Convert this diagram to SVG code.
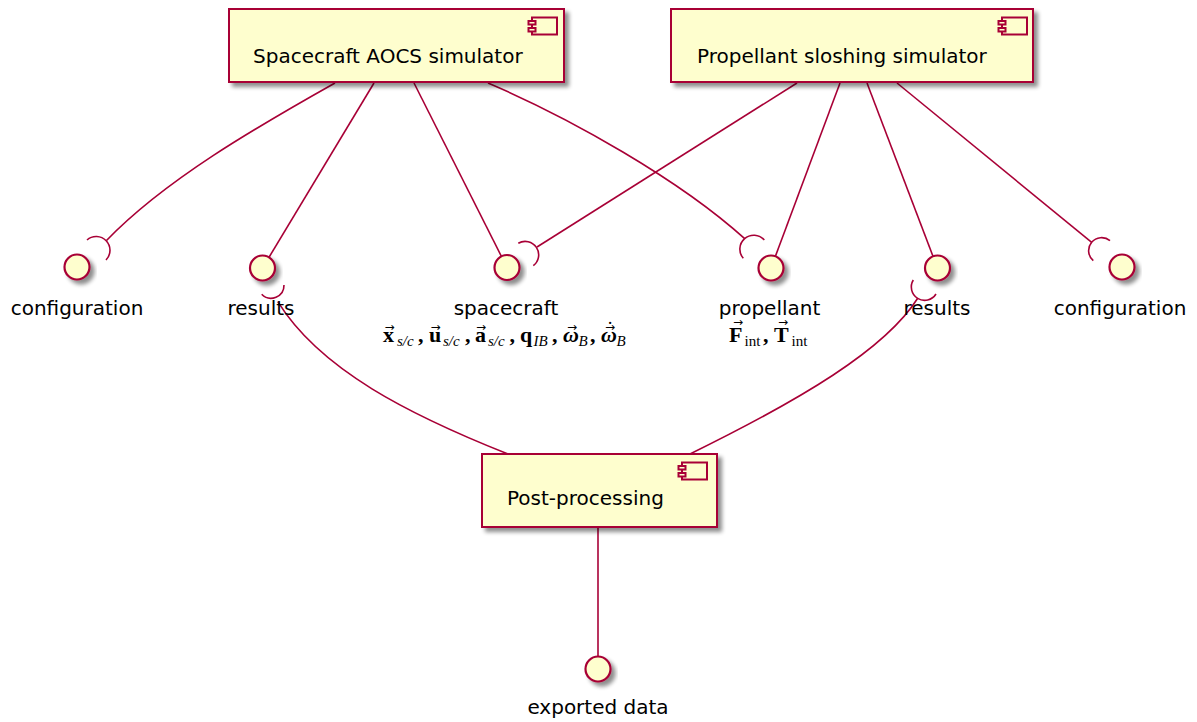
<svg xmlns="http://www.w3.org/2000/svg" width="1197" height="722" viewBox="0 0 1197 722">
<defs>
<filter id="sh" x="-20%" y="-20%" width="150%" height="160%">
<feGaussianBlur in="SourceAlpha" stdDeviation="2.2"/>
<feOffset dx="4" dy="4" result="b"/>
<feComponentTransfer><feFuncA type="linear" slope="0.45"/></feComponentTransfer>
<feMerge><feMergeNode/><feMergeNode in="SourceGraphic"/></feMerge>
</filter>
<style>
.box{fill:#FEFECE;stroke:#A80036;stroke-width:2}
.ico{fill:#FEFECE;stroke:#A80036;stroke-width:2}
.ifc{fill:#FEFECE;stroke:#A80036;stroke-width:2.2}
.ln{fill:none;stroke:#A80036;stroke-width:1.6}
.t{font-family:"DejaVu Sans",Verdana,sans-serif;font-size:20px;fill:#000}
.lbl{font-family:"DejaVu Sans",Verdana,sans-serif;font-size:20px;fill:#000;text-anchor:middle}
.m{font-family:"Liberation Serif","DejaVu Serif",serif;font-size:22px;font-weight:bold;fill:#000}
.sub{font-size:15px;font-weight:normal;font-style:italic}
.subr{font-size:15px;font-weight:normal}
.bi{font-style:italic}
.vec{font-family:"DejaVu Sans",sans-serif;font-size:12px;fill:#000;text-anchor:middle}
.dot{font-family:"Liberation Serif",serif;font-size:20px;fill:#000;text-anchor:middle}
</style>
</defs>
<g id="connectors">
<path class="ln" d="M335,83 C255,128 165,180 106.5,240.5"/>
<path class="ln" d="M87,240 A13.8,13.8 0 0 1 106,260"/>
<path class="ln" d="M374,83 L269,257.3"/>
<path class="ln" d="M414,83 L501.4,256.3"/>
<path class="ln" d="M488,83 C570,118 680,180 744.7,238.7"/>
<path class="ln" d="M743.3,258.3 A13.9,13.9 0 0 1 764.3,240"/>
<path class="ln" d="M797,83 L537,247"/>
<path class="ln" d="M518.3,243.3 A13.5,13.5 0 0 1 533.3,265.7"/>
<path class="ln" d="M840,83 L775.4,256.3"/>
<path class="ln" d="M867,83 L933,256.3"/>
<path class="ln" d="M897,83 L1091.7,242.4"/>
<path class="ln" d="M1093.3,260.7 A13,13 0 0 1 1110,240.7"/>
<path class="ln" d="M508,454 C410,415 320,370 277.8,301.7"/>
<path class="ln" d="M284,285 A13,13 0 0 1 261.7,294.3"/>
<path class="ln" d="M690,454 C800,400 885,350 917.7,298.3"/>
<path class="ln" d="M936,294 A13.3,13.3 0 0 1 913.3,280"/>
<path class="ln" d="M598,527 L598,656.5"/>
</g>
<g id="aocs">
<rect class="box" x="229" y="9" width="335" height="73" filter="url(#sh)"/>
<rect class="ico" x="532" y="17.5" width="25" height="17"/>
<rect class="ico" x="528.5" y="21" width="7" height="3.5"/>
<rect class="ico" x="528.5" y="28" width="7" height="3.5"/>
<text class="t" x="253" y="63">Spacecraft AOCS simulator</text>
</g>
<g id="sloshing">
<rect class="box" x="671" y="9" width="362" height="73" filter="url(#sh)"/>
<rect class="ico" x="1002" y="17.5" width="25" height="17"/>
<rect class="ico" x="998.5" y="21" width="7" height="3.5"/>
<rect class="ico" x="998.5" y="28" width="7" height="3.5"/>
<text class="t" x="697" y="63">Propellant sloshing simulator</text>
</g>
<g id="postprocessing">
<rect class="box" x="482" y="454" width="235" height="73" filter="url(#sh)"/>
<rect class="ico" x="682" y="462.5" width="25" height="17"/>
<rect class="ico" x="678.5" y="466" width="7" height="3.5"/>
<rect class="ico" x="678.5" y="473" width="7" height="3.5"/>
<text class="t" x="507" y="505">Post-processing</text>
</g>
<g id="config1">
<circle class="ifc" cx="77" cy="267" r="12.5" filter="url(#sh)"/>
<text class="lbl" x="77" y="315">configuration</text>
</g>
<g id="results1">
<circle class="ifc" cx="262.5" cy="268" r="12.5" filter="url(#sh)"/>
<text class="lbl" x="261" y="315">results</text>
</g>
<g id="spacecraft">
<circle class="ifc" cx="507" cy="267.5" r="12.5" filter="url(#sh)"/>
<text class="lbl" x="506" y="315">spacecraft</text>
<text class="m" y="342"><tspan x="383">x</tspan><tspan class="sub" x="397" y="346">s/c</tspan><tspan x="418" y="342">,</tspan><tspan x="429">u</tspan><tspan class="sub" x="443" y="346">s/c</tspan><tspan x="465" y="342">,</tspan><tspan x="475">a</tspan><tspan class="sub" x="488" y="346">s/c</tspan><tspan x="509.5" y="342">,</tspan><tspan x="520">q</tspan><tspan class="sub" x="533.5" y="346">IB</tspan><tspan x="552" y="342">,</tspan><tspan class="bi" x="563">ω</tspan><tspan class="sub" x="578.5" y="346">B</tspan><tspan x="590" y="342">,</tspan><tspan class="bi" x="601">ω</tspan><tspan class="sub" x="616.5" y="346">B</tspan></text>
<text class="vec" x="389.5" y="331">→</text>
<text class="vec" x="435.5" y="331">→</text>
<text class="vec" x="481" y="331">→</text>
<text class="vec" x="572" y="331">→</text>
<text class="vec" x="610" y="331">→</text>
<text class="dot" x="610" y="336">˙</text>
</g>
<g id="propellant">
<circle class="ifc" cx="771" cy="268" r="12.5" filter="url(#sh)"/>
<text class="lbl" x="769.5" y="315">propellant</text>
<text class="m" y="342"><tspan x="729">F</tspan><tspan class="subr" x="744.5" y="346">int</tspan><tspan x="763" y="342">,</tspan><tspan x="774">T</tspan><tspan class="subr" x="791.5" y="346">int</tspan></text>
<text class="vec" x="738" y="326">→</text>
<text class="vec" x="783" y="326">→</text>
</g>
<g id="results2">
<circle class="ifc" cx="937.5" cy="268" r="12.5" filter="url(#sh)"/>
<text class="lbl" x="937" y="315">results</text>
</g>
<g id="config2">
<circle class="ifc" cx="1122" cy="267" r="12.5" filter="url(#sh)"/>
<text class="lbl" x="1120" y="315">configuration</text>
</g>
<g id="exported">
<circle class="ifc" cx="598" cy="669" r="12.5" filter="url(#sh)"/>
<text class="lbl" x="598" y="714">exported data</text>
</g>
</svg>
